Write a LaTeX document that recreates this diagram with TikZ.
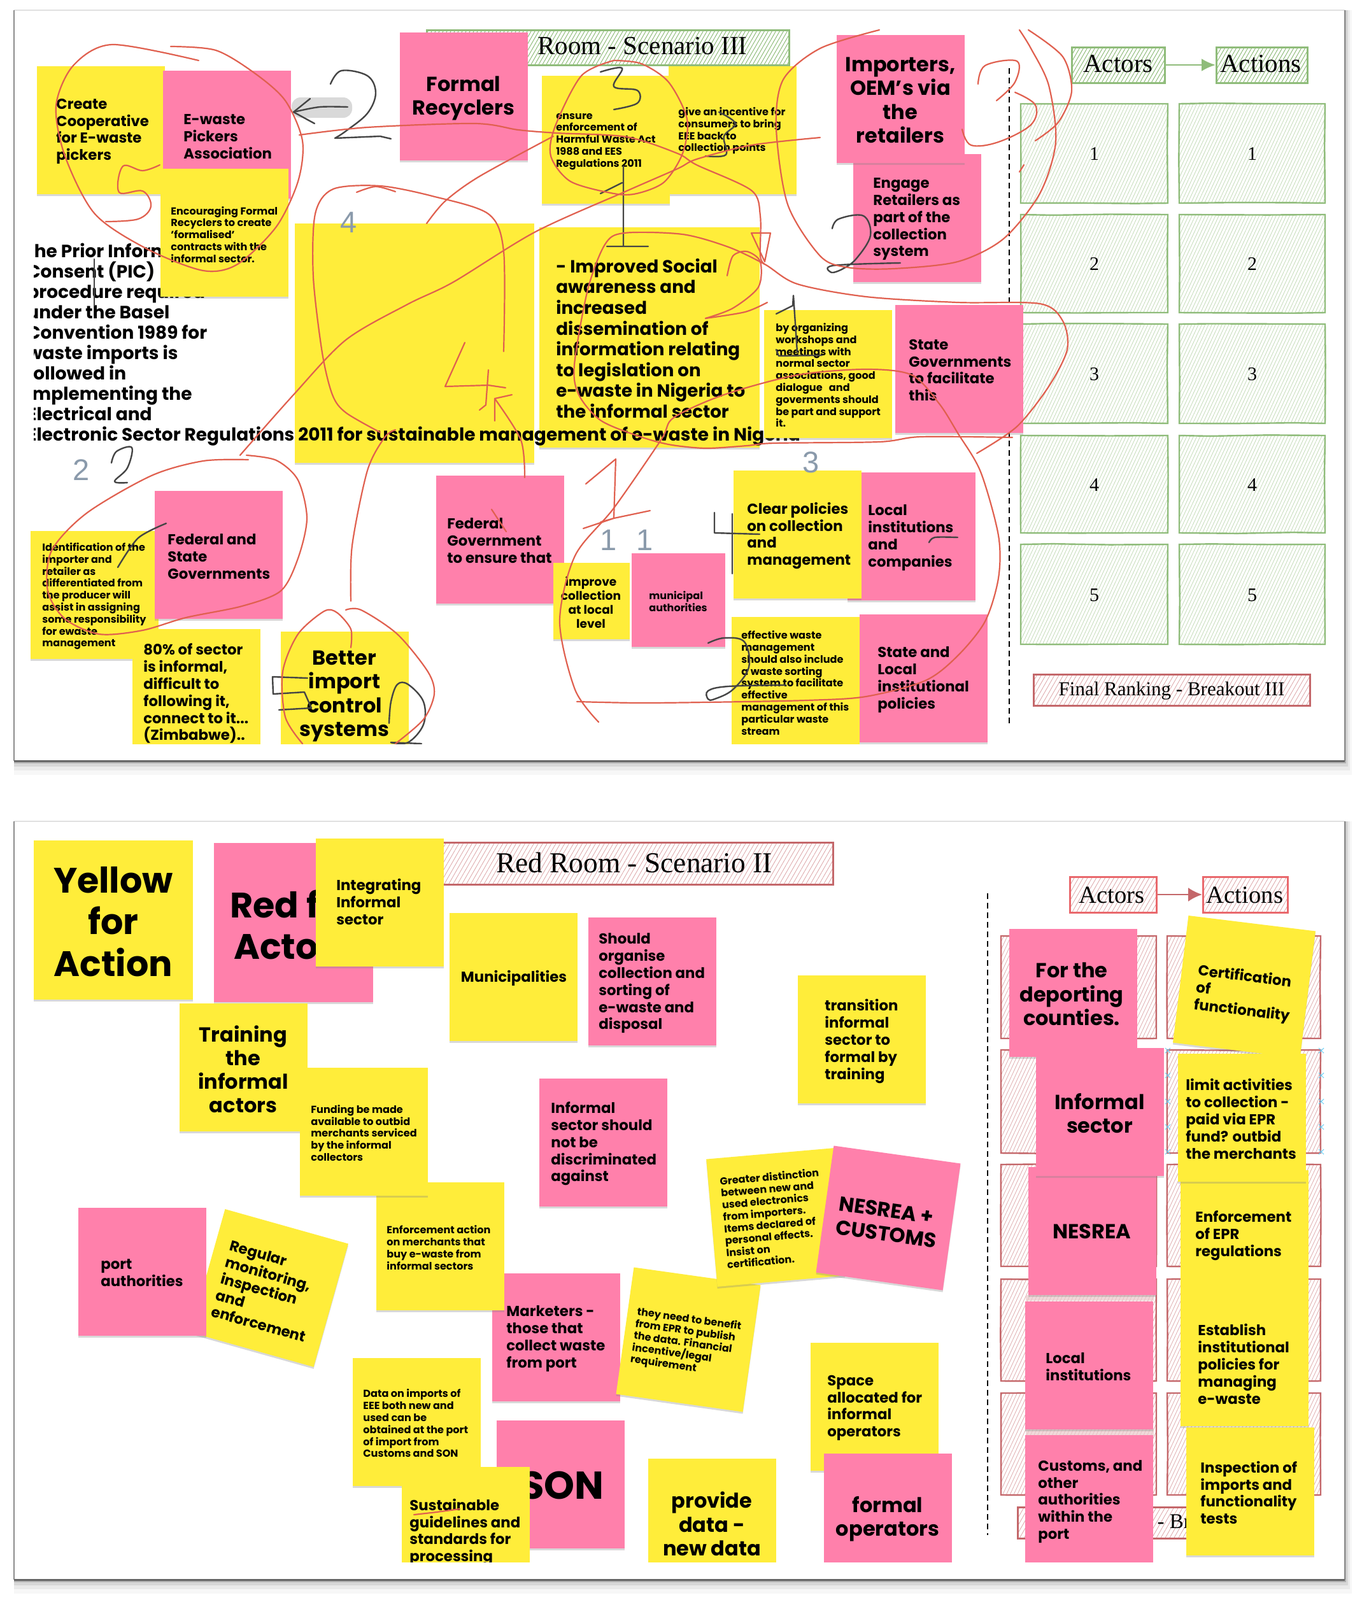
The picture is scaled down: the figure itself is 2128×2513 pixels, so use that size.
\documentclass[tikz,border=0pt]{standalone}
\usepackage{fontspec}
\setmainfont{Poppins}
\newfontfamily\serifface{Liberation Serif}
\newfontfamily\numface{Liberation Sans}
\usetikzlibrary{arrows.meta,patterns.meta,shadows,decorations.pathmorphing,shapes.misc}
\definecolor{noteyellow}{HTML}{FFED3A}
\definecolor{notepink}{HTML}{FF80AB}
\definecolor{inkred}{HTML}{E0604F}
\definecolor{inkdark}{HTML}{454545}
\definecolor{hatchgreen}{HTML}{8FBC7A}
\definecolor{hatchred}{HTML}{C4676A}
\definecolor{brightred}{HTML}{E9686C}
\definecolor{greydigit}{HTML}{8A9AAB}
\tikzset{
  note/.style={minimum size=#1,inner sep=0pt,drop shadow={shadow xshift=0pt,shadow yshift=-1.5pt,opacity=.3}},
  note/.default=100.5pt,
  ynote/.style={note=#1,fill=noteyellow},
  ynote/.default=100.5pt,
  pnote/.style={note=#1,fill=notepink},
  pnote/.default=100.5pt,
  ltxt/.style={align=left,anchor=west,inner sep=0pt,yshift=-1.2pt},
  ctxt/.style={align=center,inner sep=0pt,yshift=-1.2pt},
  txtS/.style={font=\fontsize{8.05}{9.4}\selectfont\bfseries},
  txtI/.style={font=\fontsize{9.3}{11}\selectfont\bfseries},
  txtM/.style={font=\fontsize{11.4}{13.4}\selectfont\bfseries},
  txtB/.style={font=\fontsize{13.85}{16.3}\selectfont\bfseries},
  txtP/.style={font=\fontsize{14}{16}\selectfont\bfseries},
  txtL/.style={font=\fontsize{16}{18.6}\selectfont\bfseries},
  txtX/.style={font=\fontsize{27.8}{32.8}\selectfont\bfseries},
  sketch/.style={decorate,decoration={random steps,segment length=45pt,amplitude=.5pt}},
  gcell/.style={draw=hatchgreen,line width=1.2pt,sketch,pattern={Lines[angle=65,distance=2.4pt,line width=.35pt]},pattern color=hatchgreen!60},
  gbox/.style={draw=hatchgreen,line width=1.5pt,inner sep=0pt,pattern={Lines[angle=60,distance=2.6pt,line width=.5pt]},pattern color=hatchgreen},
  rcell/.style={draw=hatchred,line width=1.2pt,sketch,pattern={Lines[angle=65,distance=2.6pt,line width=.4pt]},pattern color=hatchred!55},
  rbox/.style={draw=#1,line width=1.5pt,inner sep=0pt,pattern={Lines[angle=60,distance=3pt,line width=.4pt]},pattern color=hatchred!60},
  rbox/.default=hatchred,
  serif/.style={font=\fontsize{#1}{#1}\serifface,inner sep=0pt},
  digit/.style={font=\fontsize{23.5}{24}\numface,text=greydigit,inner sep=0pt},
  midline/.style={black,line width=1.2pt,dash pattern=on 4.5pt off 3pt},
  redink/.style={draw=inkred,line width=1.1pt,line cap=round,line join=round},
  darkink/.style={draw=inkdark,line width=1.2pt,line cap=round,line join=round},
  blueX/.style={cross out,draw=cyan!60,line width=.5pt,minimum size=3.5pt,inner sep=0pt},
}
\begin{document}
\begin{tikzpicture}[x=0.5pt,y=-0.5pt]
  \useasboundingbox (0,0) rectangle (2128,2513);
  \fill[white] (0,0) rectangle (2128,2513);
  % two boards
  \foreach \ya/\yb in {16/1195,1290/2481} {
    \foreach \s/\o in {22/.03,15/.05,9/.08,4/.18}
      \fill[black,opacity=\o] (22,\ya) rectangle (2112+\s/2,\yb+\s);
    \fill[white] (22,\ya) rectangle (2112,\yb);
    \draw[black!12,line width=1pt] (22,\ya) -- (2112,\ya);
    \draw[black!45,line width=1.2pt] (22,\ya) -- (22,\yb);
    \draw[black!45,line width=1.2pt] (2112,\ya) -- (2112,\yb);
    \draw[black!60,line width=1.5pt] (22,\yb) -- (2112,\yb);
  }

  % ---- upper board ----
  \begin{scope}
    \clip (22,40) rectangle (2112,1168);
    \node[gbox,minimum width=284.5pt,minimum height=27.5pt] (roomIII) at (954.5,74.5) {};
    \node[serif=20.5] (roomIIIt) at (1009,72) {Room - Scenario III};
    \foreach \xa/\xb [count=\c] in {1603/1834,1852/2081}
      \foreach \ya/\yb [count=\r] in {163/319,337/491,509/665,684/837,855/1012} {
        \draw[gcell] (\xa,\ya) rectangle (\xb,\yb);
        \node[serif=15] (g\c\r) at ({(\xa+\xb)/2},{(\ya+\yb)/2+1}) {\r};
      }
    \node[gbox,minimum width=73pt,minimum height=28pt] (actorsg) at (1756,102) {};
    \node[serif=20.5] (actorsgt) at (1756,100) {Actors};
    \node[gbox,minimum width=71.5pt,minimum height=28pt] (actionsg) at (1982,102) {};
    \node[serif=20.5] (actionsgt) at (1980,100) {Actions};
    \draw[hatchgreen,line width=1.4pt,-{Latex[length=11pt,width=10pt]}] (actorsg) -- (actionsg);
    \node[rbox,minimum width=217pt,minimum height=24.5pt] (finalIII) at (1840,1084) {};
    \node[serif=15.5] (finalIIIt) at (1840,1085) {Final Ranking - Breakout III};
    \draw[midline] (1585,107) -- (1585,1139);

    \node[ynote=188pt] (blank) at (650.5,539) {};
    \node[ynote=173pt] (social) at (1020,530) {};
    \node[ltxt,txtB] (socialt) at (873,529) {- Improved Social\\awareness and\\increased\\dissemination of\\information relating\\to legislation on\\e-waste in Nigeria to\\the informal sector};
    \begin{scope}
      \clip (53,350) rectangle (1400,720);
      \node[ltxt,txtP,anchor=north west] (pict) at (42,379) {the Prior Informed\\Consent (PIC)\\procedure required\\under the Basel\\Convention 1989 for\\waste imports is\\followed in\\implementing the\\Electrical and\\Electronic Sector Regulations 2011 for sustainable management of e-waste in Nigeria};
    \end{scope}

    \node[ynote] (coop) at (158,204) {};
    \node[ltxt,txtM] (coopt) at (88,204) {Create\\Cooperative\\for E-waste\\pickers};
    \node[pnote] (pickers) at (356,211) {};
    \node[ltxt,txtM] (pickerst) at (288,212) {E-waste\\Pickers\\Association};
    \node[ynote] (contracts) at (352,365) {};
    \node[ltxt,txtS] (contractst) at (268,366) {Encouraging Formal\\Recyclers to create\\'formalised'\\contracts with the\\informal sector.};
    \node[pnote] (recyclers) at (728,151) {};
    \node[ctxt,txtL] (recyclerst) at (728,152) {Formal\\Recyclers};
    \node[ynote] (incentive) at (1150,204) {};
    \node[ltxt,txtS] (incentivet) at (1065,203) {give an incentive for\\consumers to bring\\EEE back to\\collection points};
    \node[ynote] (enforce) at (951,219) {};
    \node[ltxt,txtS] (enforcet) at (873,220) {ensure\\enforcement of\\Harmful Waste Act\\1988 and EES\\Regulations 2011};
    \node[pnote] (retailers) at (1440,342) {};
    \node[ltxt,txtM] (retailerst) at (1371,342) {Engage\\Retailers as\\part of the\\collection\\system};
    \node[pnote] (importers) at (1414,155) {};
    \node[ctxt,txtL] (importerst) at (1414,155) {Importers,\\OEM's via\\the\\retailers};
    \node[ynote] (workshops) at (1300,587) {};
    \node[ltxt,txtS] (workshopst) at (1218,587) {by organizing\\workshops and\\meetings with\\normal sector\\associations, good\\dialogue \ \ and\\goverments should\\be part and support\\it.};
    \node[pnote] (stategov) at (1506,579) {};
    \node[ltxt,txtM] (stategovt) at (1427,579) {State\\Governments\\to facilitate\\this};
    \node[ynote] (identify) at (148,934) {};
    \node[ltxt,txtS] (identifyt) at (66,934) {Identification of the\\importer and\\retailer as\\differentiated from\\the producer will\\assist in assigning\\some responsibility\\for ewaste\\management};
    \node[pnote] (fedstate) at (343,871) {};
    \node[ltxt,txtM] (fedstatet) at (263,872) {Federal and\\State\\Governments};
    \node[ynote] (sector) at (308,1088) {};
    \node[ltxt,txtM] (sectort) at (225,1087) {80\% of sector\\is informal,\\difficult to\\following it,\\connect to it...\\(Zimbabwe)..};
    \node[ynote] (import) at (541,1092) {};
    \node[ctxt,txtL] (importt) at (541,1091) {Better\\import\\control\\systems};
    \node[pnote] (fedgov) at (785,847) {};
    \node[ltxt,txtM] (fedgovt) at (702,847) {Federal\\Government\\to ensure that};
    \node[ynote=60pt] (local) at (929,944) {};
    \node[ctxt,txtI] (localt) at (928,944) {improve\\collection\\at local\\level};
    \node[pnote=73.5pt] (municipal) at (1065,942) {};
    \node[ltxt,txtS] (municipalt) at (1019,942) {municipal\\authorities};
    \node[pnote] (companies) at (1431,842) {};
    \node[ltxt,txtM] (companiest) at (1363,842) {Local\\institutions\\and\\companies};
    \node[ynote] (clear) at (1252,839) {};
    \node[ltxt,txtM] (cleart) at (1173,839) {Clear policies\\on collection\\and\\management};
    \node[pnote] (statelocal) at (1450,1065) {};
    \node[ltxt,txtM] (statelocalt) at (1378,1065) {State and\\Local\\institutional\\policies};
    \node[ynote] (sorting) at (1249,1069) {};
    \node[ltxt,txtS] (sortingt) at (1164,1070) {effective waste\\management\\should also include\\a waste sorting\\system to facilitate\\effective\\management of this\\particular waste\\stream};

    \node[digit] (n4) at (548,349) {4};
    \node[digit] (n2) at (128,738) {2};
    \node[digit] (n1a) at (956,848) {1};
    \node[digit] (n1b) at (1013,848) {1};
    \node[digit] (n3) at (1274,726) {3};

    \fill[black!15,rounded corners=7pt] (458,153) rectangle (553,185);
    % dark pen
    \draw[darkink] plot[smooth,tension=.6] coordinates {(519,132) (536,111) (577,119) (590,146) (577,178) (543,206) (526,217)} -- (597,214) -- (614,218);
    \draw[darkink] plot[smooth] coordinates {(546,168) (502,168) (461,176)};
    \draw[darkink] (487,155) -- (461,176) -- (494,194);
    \draw[darkink] plot[smooth,tension=.6] coordinates {(943,113) (977,107) (964,136) (1001,142) (1001,162) (964,172)};
    \draw[darkink] (979,261) -- (979,387) (953,387) -- (1018,387) (943,304) -- (977,287);
    \draw[darkink] (148,407) -- (148,480);
    \draw[darkink] plot[smooth,tension=.6] coordinates {(175,727) (183,709) (207,703) (200,735) (180,756) (200,758)};
    \draw[darkink] plot[smooth] coordinates {(261,822) (217,845) (185,891)};
    \draw[darkink] (483,1065) -- (428,1063) -- (429,1090) -- (478,1087) -- (489,1112) -- (438,1115);
    \draw[darkink] plot[smooth,tension=.6] coordinates {(611,1136) (614,1102) (624,1075) (641,1075) (665,1102) (665,1138) (641,1166) (614,1166) (662,1168)};
    \draw[darkink] (1122,805) -- (1122,837) -- (1193,839) (1150,807) -- (1150,901);
    \draw[darkink] plot[smooth] coordinates {(1459,852) (1468,844) (1504,844)};
    \draw[darkink] plot[smooth,tension=.6] coordinates {(1112,1010) (1137,1002) (1169,1008) (1176,1048) (1151,1083) (1122,1098) (1112,1098) (1112,1085) (1144,1078) (1234,1076)};
    \draw[darkink] plot[smooth,tension=.6] coordinates {(1307,359) (1317,344) (1356,339) (1367,370) (1345,406) (1324,422) (1306,428) (1309,417) (1414,413)};
    \draw[darkink] (1219,493) -- (1245,480) -- (1246,464) -- (1252,553) (1219,549) -- (1223,559) -- (1291,558);
    \draw[darkink] plot[smooth,tension=.6] coordinates {(1129,176) (1155,194) (1137,214) (1140,243) (1108,245)};
    % red pen
    \draw[redink] plot[smooth] coordinates {(312,95) (176,70) (115,103) (88,166) (102,245) (149,336) (231,391) (319,425) (373,415) (434,356) (468,285) (475,221) (448,158) (400,115) (339,79) (268,73)};
    \draw[redink] plot[smooth,tension=.6] coordinates {(251,259) (224,268) (193,261) (187,302) (224,300) (237,324) (217,344) (166,348)};
    \draw[redink] plot[smooth] coordinates {(470,212) (577,200) (746,194) (814,204) (875,209) (984,215) (1064,241) (1094,259) (1180,299) (1194,339) (1194,402) (1201,415)};
    \draw[redink] plot[smooth] coordinates {(1590,687) (1446,686) (1381,694) (1216,696) (1173,700) (1108,704) (1050,698) (1000,684) (943,660) (909,620) (902,573) (923,455) (950,384) (980,366) (1072,368) (1144,388) (1201,415) (1252,446) (1360,466) (1504,475) (1633,477) (1669,504) (1676,549) (1647,607) (1597,670) (1534,712)};
    \draw[redink] (1180,366) -- (1210,366) -- (1201,411) -- cycle;
    \draw[redink] plot[smooth] coordinates {(1142,433) (1151,402) (1173,395) (1194,411) (1191,451) (1151,484) (1108,500)};
    \draw[redink] plot[smooth] coordinates {(1205,475) (1170,490) (1108,500)};
    \draw[redink] plot[smooth] coordinates {(940,1134) (903,1083) (879,976) (903,873) (964,798) (1038,691) (1058,656) (1137,620) (1252,589) (1360,580) (1432,589) (1475,634) (1504,680) (1540,741) (1568,841) (1568,908) (1547,976) (1504,1030) (1453,1069) (1360,1094) (1266,1100) (1108,1103) (1000,1104) (906,1102)};
    \draw[redink] (920,760) -- (967,721) -- (964,814) -- (943,820) (916,830) -- (964,814) -- (1021,802);
    \draw[redink] plot[smooth] coordinates {(560,302) (590,293) (621,301)};
    \draw[redink] plot[smooth] coordinates {(791,552) (791,395) (767,336) (679,308) (597,292) (523,297) (495,336) (492,435) (506,554) (522,620) (543,648) (597,679)};
    \draw[redink] plot[smooth] coordinates {(824,750) (818,691) (777,626)};
    \draw[redink] (777,661) -- (777,626) -- (804,620);
    \draw[redink] (730,538) -- (699,607) -- (767,605) -- (794,609) (767,581) -- (763,636) -- (753,644);
    \draw[redink] plot[smooth] coordinates {(551,944) (553,857) (577,739) (604,687) (621,675)};
    \draw[redink] plot[smooth] coordinates {(551,1017) (551,988) (529,962) (509,960) (468,996) (444,1055) (448,1126) (475,1168)};
    \draw[redink] plot[smooth] coordinates {(543,958) (567,958) (624,996) (672,1055) (682,1090) (665,1130) (621,1168)};
    \draw[redink] plot[smooth] coordinates {(390,722) (319,724) (238,747) (136,806) (81,865) (75,928) (102,972) (156,996) (224,990) (292,970) (380,952) (441,928) (468,877) (482,814) (468,754) (434,723) (387,715)};
    \draw[redink] plot[smooth] coordinates {(377,715) (461,620) (543,534) (640,478) (712,443) (841,364) (984,300) (1064,265) (1094,250) (1180,228) (1288,216)};
    \draw[redink] plot[smooth] coordinates {(670,351) (699,316) (753,277) (869,214)};
    \draw[redink] plot[smooth] coordinates {(964,95) (1007,100) (1050,129) (1079,187) (1072,241) (1043,286) (1000,304) (964,304) (896,285) (865,245) (872,198) (913,119) (964,95)};
    \draw[redink] plot[smooth] coordinates {(1381,47) (1288,76) (1230,125) (1219,201) (1237,321) (1288,402) (1331,420) (1403,422) (1504,411) (1576,375) (1633,304) (1658,223) (1647,134) (1619,76) (1601,47)};
    \draw[redink] plot[smooth] coordinates {(1615,47) (1669,89) (1683,143) (1662,192) (1626,221)};
    \draw[redink] plot[smooth,tension=.6] coordinates {(1536,132) (1547,103) (1597,96) (1594,129) (1565,158)};
    \draw[redink] plot[smooth,tension=.6] coordinates {(1594,145) (1626,165) (1619,196) (1568,223) (1525,228) (1511,203)};
    \draw[redink] (1601,270) -- (1608,259);
    \draw[redink] (772,800) -- (795,835);
  \end{scope}

  % ---- lower board ----
  \begin{scope}
    \clip (22,1300) rectangle (2112,2453);
    \node[rbox,minimum width=334pt,minimum height=33pt] (roomII) at (974,1356) {};
    \node[serif=22.7] (roomIIt) at (996,1355) {Red Room - Scenario II};
    \foreach \xa/\xb in {1572/1816,1833/2074}
      \foreach \ya/\yb in {1470/1631,1649/1811,1829/1989,2009/2169,2188/2348}
        \draw[rcell] (\xa,\ya) rectangle (\xb,\yb);
    \node[rbox=brightred,minimum width=68pt,minimum height=28pt] (actorsr) at (1748,1405) {};
    \node[serif=19.3] (actorsrt) at (1746,1406) {Actors};
    \node[rbox=brightred,minimum width=66.5pt,minimum height=28pt] (actionsr) at (1956,1405) {};
    \node[serif=19.3] (actionsrt) at (1955,1406) {Actions};
    \draw[hatchred,line width=1.4pt,-{Latex[length=11pt,width=11pt]}] (actorsr) -- (actionsr);
    \node[rbox,minimum width=226pt,minimum height=24.5pt] (finalII) at (1824,2392) {};
    \node[serif=16.5,anchor=west] (finalIIt) at (1621,2393) {Final Ranking - Breakout II};
    \draw[midline] (1551,1403) -- (1551,2411);

    \node[ynote=125pt] (yellow) at (178,1445) {};
    \node[ctxt,txtX] (yellowt) at (178,1445) {Yellow\\for\\Action};
    \node[pnote=125pt] (red) at (461,1449) {};
    \node[ctxt,txtX] (redt) at (461,1450) {Red for\\Actors};
    \node[ynote] (integrate) at (596,1417) {};
    \node[ltxt,txtM] (integratet) at (528,1414) {Integrating\\Informal\\sector};
    \node[ynote] (munis) at (806,1534) {};
    \node[ctxt,txtM] (munist) at (807,1534) {Municipalities};
    \node[pnote] (organise) at (1024,1541) {};
    \node[ltxt,txtM] (organiset) at (940,1542) {Should\\organise\\collection and\\sorting of\\e-waste and\\disposal};
    \node[ynote] (transition) at (1353,1632) {};
    \node[ltxt,txtM] (transitiont) at (1295,1633) {transition\\informal\\sector to\\formal by\\training};
    \node[ynote] (training) at (382,1676) {};
    \node[ctxt,txtL] (trainingt) at (382,1677) {Training\\the\\informal\\actors};
    \node[pnote] (discrim) at (947,1794) {};
    \node[ltxt,txtM] (discrimt) at (865,1794) {Informal\\sector should\\not be\\discriminated\\against};
    \node[pnote] (marketers) at (873,2100) {};
    \node[ltxt,txtM] (marketerst) at (795,2100) {Marketers -\\those that\\collect waste\\from port};
    \node[ynote] (action) at (691,1957) {};
    \node[ltxt,txtS] (actiont) at (607,1957) {Enforcement action\\on merchants that\\buy e-waste from\\informal sectors};
    \node[ynote] (funding) at (571,1777) {};
    \node[ltxt,txtS] (fundingt) at (488,1777) {Funding be made\\available to outbid\\merchants serviced\\by the informal\\collectors};
    \node[ynote,rotate=-15.7] (regular) at (423,2023) {};
    \node[ltxt,txtM,rotate=-15.7] (regulart) at (347,2005) {Regular\\monitoring,\\inspection\\and\\enforcement};
    \node[pnote] (port) at (223,1997) {};
    \node[ltxt,txtM] (portt) at (158,1997) {port\\authorities};
    \node[ynote] (importdata) at (654,2233) {};
    \node[ltxt,txtS] (importdatat) at (570,2233) {Data on imports of\\EEE both new and\\used can be\\obtained at the port\\of import from\\Customs and SON};
    \node[pnote] (son) at (880,2331) {};
    \node[ctxt,font=\fontsize{30.5}{31}\selectfont\bfseries] (sont) at (883,2331) {SON};
    \node[ynote] (guidelines) at (731,2404) {};
    \node[ltxt,txtM] (guidelinest) at (643,2404) {Sustainable\\guidelines and\\standards for\\processing};
    \node[ynote] (provide) at (1118,2391) {};
    \node[ctxt,txtL] (providet) at (1118,2391) {provide\\data -\\new data};
    \node[ynote,rotate=-8] (benefit) at (1081,2104) {};
    \node[ltxt,txtS,rotate=-8] (benefitt) at (995,2096) {they need to benefit\\from EPR to publish\\the data. Financial\\incentive/legal\\requirement};
    \node[ynote,rotate=5] (distinct) at (1218,1912) {};
    \node[ltxt,txtS,rotate=5] (distinctt) at (1136,1918) {Greater distinction\\between new and\\used electronics\\from importers.\\Items declared of\\personal effects.\\Insist on\\certification.};
    \node[pnote,rotate=-8] (customsn) at (1395,1913) {};
    \node[ltxt,txtL,rotate=-8] (customsnt) at (1315,1906) {NESREA +\\CUSTOMS};
    \node[ynote] (space) at (1373,2209) {};
    \node[ltxt,txtM] (spacet) at (1299,2209) {Space\\allocated for\\informal\\operators};
    \node[pnote] (formal) at (1394,2383) {};
    \node[ctxt,txtL] (formalt) at (1394,2383) {formal\\operators};

    \node[pnote] (deport) at (1685,1559) {};
    \node[ctxt,txtL] (deportt) at (1683,1559) {For the\\deporting\\counties.};
    \fill[hatchred!35,opacity=.7] (1611,2034) rectangle (1812,2043) (1611,2245) rectangle (1812,2255);
    \node[pnote] (nesrea) at (1715,1933) {};
    \node[ctxt,txtL] (nesreat) at (1715,1932) {NESREA};
    \node[pnote] (informal) at (1727,1746) {};
    \node[ctxt,txtL] (informalt) at (1727,1746) {Informal\\sector};
    \node[pnote] (localinst) at (1710,2144) {};
    \node[ltxt,txtM] (localinstt) at (1642,2144) {Local\\institutions};
    \node[pnote] (customs) at (1710,2354) {};
    \node[ltxt,txtM] (customst) at (1630,2356) {Customs, and\\other\\authorities\\within the\\port};
    \foreach \y in {1650,1689,1730,1770,1809} {
      \node[blueX] (xa\y) at (1834,\y) {};
      \node[blueX] (xb\y) at (2075,\y) {};
    }
    \node[ynote,rotate=-7] (cert) at (1954,1550) {};
    \node[ltxt,txtM,rotate=-7] (certt) at (1878,1550) {Certification\\of\\functionality};
    \node[ynote] (enfepr) at (1954,1938) {};
    \node[ltxt,txtM] (enfeprt) at (1877,1938) {Enforcement\\of EPR\\regulations};
    \node[ynote] (limit) at (1950,1755) {};
    \node[ltxt,txtM] (limitt) at (1862,1755) {limit activities\\to collection -\\paid via EPR\\fund? outbid\\the merchants};
    \node[ynote] (establish) at (1954,2139) {};
    \node[ltxt,txtM] (establisht) at (1881,2140) {Establish\\institutional\\policies for\\managing\\e-waste};
    \node[ynote] (inspect) at (1963,2342) {};
    \node[ltxt,txtM] (inspectt) at (1885,2342) {Inspection of\\imports and\\functionality\\tests};
    \draw[redink] plot[smooth] coordinates {(650,2379) (685,2375) (722,2370)};
  \end{scope}
\end{tikzpicture}
\end{document}
